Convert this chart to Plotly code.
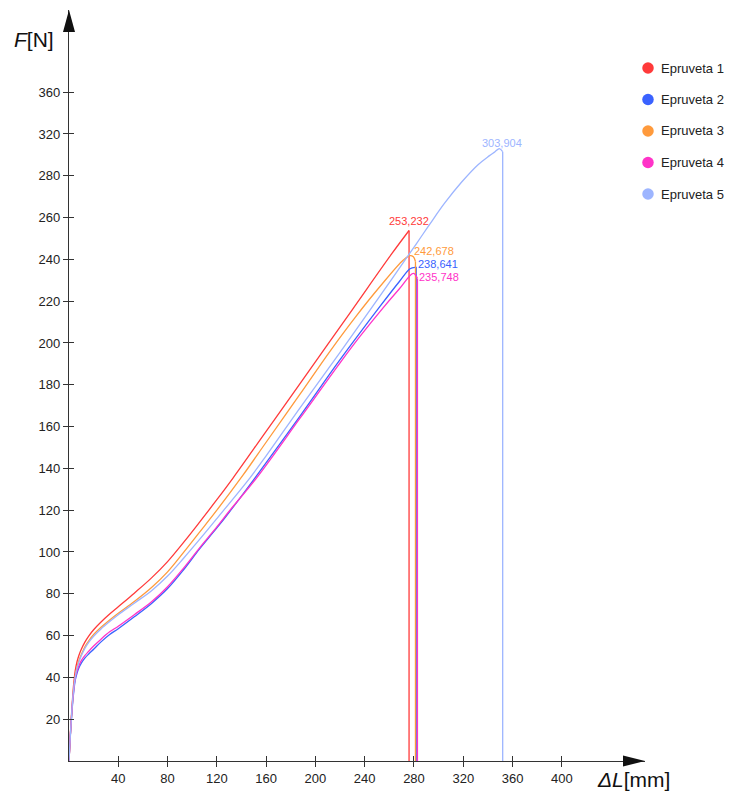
import plotly.graph_objects as go

# ---------------- data ----------------
series_names = ["Epruveta 1", "Epruveta 2", "Epruveta 3", "Epruveta 4", "Epruveta 5"]
series_colors = ["#ff3a3a", "#3a62ff", "#ff9a3c", "#ff33c8", "#9db5ff"]

x1 = [0, 1, 2, 3, 4, 5, 6.5, 8, 10, 13, 16, 20, 26, 33, 40, 53, 67, 80, 93, 106, 120, 133.4, 160, 187.5, 230, 262, 276]
y1 = [0, 12, 22, 31, 38, 43, 47.5, 50.5, 53.5, 57, 59.8, 62.8, 66.5, 70.3, 73.8, 80.3, 87.6, 95.4, 104.6, 114.3, 125, 135.6, 157.7, 180.5, 216, 242.7, 253.8]

x2 = [0, 1, 2, 3, 4, 5, 6.5, 8, 10, 13, 16, 20, 26, 33, 40, 53, 67, 80, 93, 106, 120, 130, 151, 187.5, 220, 252.4, 268, 276.8, 280.8]
y2 = [0, 11, 20, 28, 34, 38.5, 42, 44.5, 46.8, 49.3, 51.2, 53.5, 57, 60.5, 63.3, 69, 75.4, 82.5, 91.5, 101.5, 111.5, 119, 135.5, 165, 192, 217.5, 229.3, 235.5, 236.2]

x3 = [0, 1, 2, 3, 4, 5, 6.5, 8, 10, 13, 16, 20, 26, 33, 40, 53, 67, 80, 93, 106, 120, 141.5, 160, 187.5, 211.8, 232, 252.4, 271.4, 276.8, 279.5, 281.2]
y3 = [0, 11.5, 21, 29.5, 36, 40.5, 45, 48, 51, 54.8, 57.5, 60.5, 64, 67.5, 70.7, 76.3, 83, 90.5, 99.8, 109.5, 120, 137, 152.5, 175.5, 196, 212, 227, 239.7, 241.8, 241.2, 239]

x4 = [0, 1, 2, 3, 4, 5, 6.5, 8, 10, 13, 16, 20, 26, 33, 40, 53, 67, 80, 93, 106, 120, 130, 152.3, 187.5, 220, 236, 252.4, 268, 279.5, 282.8]
y4 = [0, 11.5, 21, 29, 35, 39.5, 43, 45.5, 48, 50.5, 52.5, 55, 58.3, 61.8, 64.5, 70, 76.2, 83.4, 92.3, 102, 112, 119.5, 135.5, 164, 190.5, 203, 215, 225.8, 233.3, 230.9]

x5 = [0, 1, 2, 3, 4, 5, 6.5, 8, 10, 13, 16, 20, 26, 33, 40, 53, 67, 80, 93, 106, 120, 146.9, 160, 187.5, 220, 250, 282.2, 293, 305, 318.7, 332, 341, 345.8, 349.3, 352]
y5 = [0, 11.5, 21, 29.5, 35.5, 40, 44.5, 47.3, 50.3, 54, 56.8, 59.7, 63.2, 66.7, 70, 75.5, 81.5, 88.5, 97, 106, 116, 135.5, 146, 169, 195.5, 220.5, 247.7, 257, 267, 277, 285.3, 289.5, 291.5, 293, 291.5]

break_x = [276, 281.8, 281.2, 282.8, 352]
peak_labels = ["253,232", "238,641", "242,678", "235,748", "303,904"]

x_tick_values = [40, 80, 120, 160, 200, 240, 280, 320, 360, 400]
x_tick_labels = ["40", "80", "120", "160", "200", "240", "280", "320", "360", "400"]
y_tick_values = [20, 40, 60, 80, 100, 120, 140, 160, 180, 200, 220, 240, 260, 280, 300, 320]
y_tick_labels = ["20", "40", "60", "80", "100", "120", "140", "160", "180", "200", "220", "240", "260", "280", "320", "360"]

xs = [x1, x2, x3, x4, x5]
ys = [y1, y2, y3, y4, y5]

# ---------------- layout geometry ----------------
W, H = 735, 796
L, R, T, B = 69, 90, 10, 35
PW, PH = W - L - R, H - T - B
X_MAX = 467.5
Y_MAX = 359.3
FONT = "Liberation Sans, Arial, sans-serif"
AXC = "#333333"


def px_x(p):
    return (p - L) / PW


def px_y(p):
    return (H - B - p) / PH


fig = go.Figure()

for i in range(5):
    c = series_colors[i]
    fig.add_trace(go.Scatter(x=xs[i], y=ys[i], mode="lines", name=series_names[i],
                             line=dict(color=c, width=1.3, shape="spline", smoothing=1.0),
                             showlegend=False, hoverinfo="skip"))
    fig.add_trace(go.Scatter(x=[xs[i][-1], break_x[i], break_x[i]],
                             y=[ys[i][-1], ys[i][-1], 0], mode="lines",
                             line=dict(color=c, width=1.3), showlegend=False, hoverinfo="skip"))

# peak labels
label_pos = [
    dict(xanchor="center", yanchor="bottom", xshift=0, yshift=2, at="peak"),
    dict(xanchor="left", yanchor="middle", xshift=0, yshift=3, at="break"),
    dict(xanchor="left", yanchor="middle", xshift=-3, yshift=5, at="break"),
    dict(xanchor="left", yanchor="middle", xshift=0, yshift=-4, at="break"),
    dict(xanchor="center", yanchor="bottom", xshift=3, yshift=-2, at="peak"),
]
for i in range(5):
    pk = max(range(len(ys[i])), key=lambda k: ys[i][k])
    p = label_pos[i]
    ax = xs[i][pk] if p["at"] == "peak" else break_x[i]
    fig.add_annotation(x=ax, y=ys[i][pk], text=peak_labels[i], showarrow=False,
                       xanchor=p["xanchor"], yanchor=p["yanchor"],
                       xshift=p["xshift"], yshift=p["yshift"],
                       font=dict(family=FONT, size=11, color=series_colors[i]))

# custom legend
legend_y = [68, 99.5, 131, 162.5, 194]
for i in range(5):
    cy = legend_y[i]
    r = 5.75
    fig.add_shape(type="circle", xref="paper", yref="paper",
                  x0=px_x(648 - r), x1=px_x(648 + r), y0=px_y(cy + r), y1=px_y(cy - r),
                  fillcolor=series_colors[i], line=dict(width=0))
    fig.add_annotation(xref="paper", yref="paper", x=px_x(659), y=px_y(cy),
                       text=series_names[i], showarrow=False, xanchor="left", yanchor="middle",
                       font=dict(family=FONT, size=13, color="#222222"))

# axis arrows
fig.add_shape(type="path", xref="paper", yref="paper",
              path=f"M {px_x(63)},{px_y(32)} L {px_x(75)},{px_y(32)} L {px_x(69)},{px_y(10)} Z",
              fillcolor="#111111", line=dict(width=0))
fig.add_shape(type="path", xref="paper", yref="paper",
              path=f"M {px_x(623)},{px_y(755.5)} L {px_x(623)},{px_y(766.5)} L {px_x(645)},{px_y(761)} Z",
              fillcolor="#111111", line=dict(width=0))

# axis titles
fig.add_annotation(xref="paper", yref="paper", x=px_x(34), y=px_y(40), text="<i>F</i>[N]",
                   showarrow=False, xanchor="center", yanchor="middle",
                   font=dict(family=FONT, size=21, color="#111111"))
fig.add_annotation(xref="paper", yref="paper", x=px_x(633), y=px_y(779), text="<i>ΔL</i>[mm]",
                   showarrow=False, xanchor="center", yanchor="middle",
                   font=dict(family=FONT, size=21, color="#111111"))

axis_common = dict(showgrid=False, zeroline=False, showline=True, linecolor=AXC, linewidth=1.3,
                   tickcolor=AXC, tickwidth=1.2, ticklen=5,
                   tickfont=dict(family=FONT, size=13, color="#222222"))

fig.update_layout(
    width=W, height=H, margin=dict(l=L, r=R, t=T, b=B),
    paper_bgcolor="white", plot_bgcolor="white", showlegend=False,
    xaxis=dict(range=[0, X_MAX], tickmode="array", tickvals=x_tick_values, ticktext=x_tick_labels,
               ticks="outside", **axis_common),
    yaxis=dict(range=[0, Y_MAX], tickmode="array", tickvals=y_tick_values, ticktext=y_tick_labels,
               ticks="outside", **axis_common),
    xaxis2=dict(range=[0, X_MAX], overlaying="x", anchor="y", side="bottom", tickmode="array",
                tickvals=x_tick_values, ticks="inside", showticklabels=False, showgrid=False,
                zeroline=False, showline=False, tickcolor=AXC, tickwidth=1.2, ticklen=5),
    yaxis2=dict(range=[0, Y_MAX], overlaying="y", anchor="x", side="left", tickmode="array",
                tickvals=y_tick_values, ticks="inside", showticklabels=False, showgrid=False,
                zeroline=False, showline=False, tickcolor=AXC, tickwidth=1.2, ticklen=5),
)
# invisible trace to activate the overlay axes
fig.add_trace(go.Scatter(x=[None], y=[None], xaxis="x2", yaxis="y2", showlegend=False, hoverinfo="skip"))

fig.write_html("out.html", config={"displayModeBar": False},
               post_script="document.body.style.margin='0';document.body.style.overflow='hidden';")
